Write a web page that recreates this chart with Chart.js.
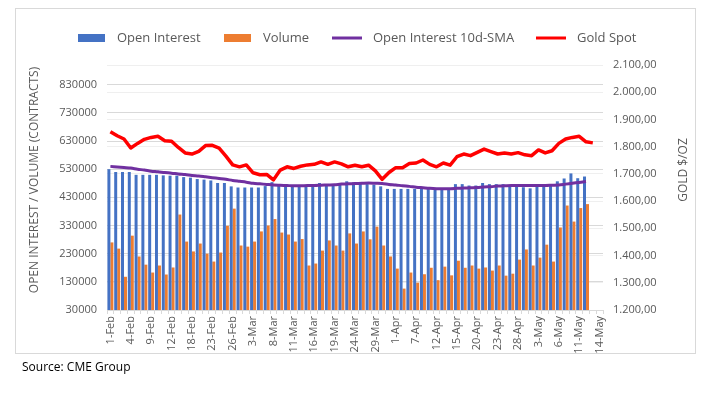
<!DOCTYPE html>
<html>
<head>
<meta charset="utf-8">
<title>Gold futures: open interest and volume</title>
<script src="https://cdn.jsdelivr.net/npm/chart.js@4.4.0/dist/chart.umd.min.js"></script>
<style>
  html, body { margin: 0; padding: 0; background: #ffffff; }
  #wrap { width: 716px; height: 397px; }
</style>
</head>
<body>
<div id="wrap"><canvas id="chart" width="716" height="397"></canvas></div>
<script>
// Trading days, 1-Feb to 14-May (only every third one is labelled on the axis)
const categories = [
  '1-Feb', '2-Feb', '3-Feb', '4-Feb', '5-Feb', '8-Feb', '9-Feb', '10-Feb', '11-Feb', '12-Feb',
  '16-Feb', '17-Feb', '18-Feb', '19-Feb', '22-Feb', '23-Feb', '24-Feb', '25-Feb', '26-Feb',
  '1-Mar', '2-Mar', '3-Mar', '4-Mar', '5-Mar', '8-Mar', '9-Mar', '10-Mar', '11-Mar', '12-Mar',
  '15-Mar', '16-Mar', '17-Mar', '18-Mar', '19-Mar', '22-Mar', '23-Mar', '24-Mar', '25-Mar', '26-Mar',
  '29-Mar', '30-Mar', '31-Mar',
  '1-Apr', '5-Apr', '6-Apr', '7-Apr', '8-Apr', '9-Apr', '12-Apr', '13-Apr', '14-Apr', '15-Apr',
  '16-Apr', '19-Apr', '20-Apr', '21-Apr', '22-Apr', '23-Apr', '26-Apr', '27-Apr', '28-Apr', '29-Apr',
  '30-Apr',
  '3-May', '4-May', '5-May', '6-May', '7-May', '10-May', '11-May', '12-May', '13-May', '14-May'
];

// Contracts
const openInterest = [
  530000, 520000, 520000, 520000, 510000, 510000, 510000, 510000, 508000, 507000,
  507000, 502000, 500000, 495000, 493000, 490000, 481000, 481000, 469000, 465000,
  465000, 465000, 465000, 470000, 484000, 474000, 474000, 471000, 470000, 469000,
  476000, 481000, 475000, 474000, 477000, 487000, 483000, 481000, 477000, 475000,
  469000, 460000, 460000, 460000, 460000, 460000, 464000, 461000, 460000, 460000,
  460000, 477000, 477000, 472000, 472000, 481000, 477000, 477000, 477000, 474000,
  468000, 466000, 462000, 470000, 471000, 471000, 487000, 497000, 515000, 498000,
  504000
];

const volume = [
  270000, 248000, 148000, 294000, 220000, 191000, 163000, 188000, 156000, 181000,
  369000, 273000, 238000, 266000, 230000, 202000, 234000, 329000, 390000, 259000,
  255000, 273000, 309000, 330000, 353000, 305000, 298000, 273000, 282000, 188000,
  195000, 241000, 277000, 259000, 241000, 302000, 266000, 309000, 281000, 326000,
  259000, 220000, 177000, 106000, 163000, 127000, 157000, 180000, 136000, 184000,
  153000, 205000, 180000, 188000, 177000, 181000, 170000, 188000, 152000, 159000,
  209000, 245000, 188000, 216000, 262000, 202000, 323000, 401000, 344000, 392000,
  406000
];

const openInterestSma = [
  540000, 538000, 536000, 534000, 530000, 527000, 523000, 521000, 518000, 516000,
  513000, 511000, 508000, 506000, 503000, 500000, 497000, 494000, 490000, 487000,
  484000, 480000, 478000, 476000, 474000, 473000, 472000, 471000, 471000, 472000,
  472000, 473000, 474000, 475000, 477000, 478000, 479000, 480000, 481000, 480000,
  479000, 476000, 474000, 471000, 469000, 466000, 464000, 462000, 461000, 461000,
  461000, 462000, 463000, 464000, 465000, 467000, 468000, 470000, 471000, 472000,
  472000, 472000, 472000, 472000, 472000, 473000, 474000, 477000, 480000, 483000,
  486000
];

// $/oz
const goldSpot = [
  1855, 1840, 1828, 1795, 1812, 1827, 1834, 1838, 1822, 1820,
  1797, 1777, 1773, 1783, 1804, 1805, 1795, 1765, 1733, 1726,
  1733, 1704, 1697, 1698, 1678, 1714, 1726, 1720, 1728, 1733,
  1735, 1744, 1735, 1744, 1737, 1726, 1732, 1726, 1732, 1711,
  1680, 1705, 1723, 1723, 1738, 1740, 1751, 1735, 1726, 1740,
  1732, 1763, 1773, 1767, 1779, 1791, 1782, 1773, 1777, 1773,
  1778, 1770, 1767, 1788, 1777, 1785, 1812, 1828, 1834, 1838,
  1818, 1814
];

const leftTicks = [30000, 130000, 230000, 330000, 430000, 530000, 630000, 730000, 830000];
const rightTicks = [1200, 1300, 1400, 1500, 1600, 1700, 1800, 1900, 2000, 2100];

const FONT = "'Open Sans', 'Liberation Sans', sans-serif";
const TEXT = '#595959';

// 1.200,00 style numbers
function formatEuro(v) {
  const whole = Math.round(v).toString().replace(/\B(?=(\d{3})+(?!\d))/g, '.');
  return whole + ',00';
}

// Frame, legend, axis titles and source line
const decorations = {
  id: 'decorations',
  beforeDraw(chart) {
    const c = chart.ctx;
    c.save();
    c.fillStyle = '#ffffff';
    c.fillRect(0, 0, chart.width, chart.height);
    c.restore();
  },
  afterDraw(chart) {
    const c = chart.ctx;
    const ds = chart.data.datasets;
    c.save();

    // chart frame
    c.strokeStyle = '#d9d9d9';
    c.lineWidth = 1;
    c.strokeRect(15.5, 8.5, 680, 345);

    // legend
    c.font = '13px ' + FONT;
    c.fillStyle = TEXT;
    c.textBaseline = 'middle';
    const ly = 38;
    const items = [
      { x: 78, text: 117, kind: 'box' },
      { x: 224, text: 263, kind: 'box' },
      { x: 332, text: 373, kind: 'line' },
      { x: 536, text: 577, kind: 'line' }
    ];
    items.forEach((it, i) => {
      const d = ds[i];
      if (it.kind === 'box') {
        c.fillStyle = d.backgroundColor;
        c.fillRect(it.x, ly - 4, 27, 8);
      } else {
        c.strokeStyle = d.borderColor;
        c.lineWidth = 3;
        c.beginPath();
        c.moveTo(it.x, ly);
        c.lineTo(it.x + 30, ly);
        c.stroke();
      }
      c.fillStyle = TEXT;
      c.textAlign = 'left';
      c.fillText(d.label, it.text, ly);
    });

    // axis titles
    c.font = '12px ' + FONT;
    c.fillStyle = TEXT;
    c.textAlign = 'center';
    c.save();
    c.translate(35, 180);
    c.rotate(-Math.PI / 2);
    c.fillText('OPEN INTEREST / VOLUME (CONTRACTS)', 0, 0);
    c.restore();
    c.save();
    c.translate(684, 170);
    c.rotate(-Math.PI / 2);
    c.fillText('GOLD $/OZ', 0, 0);
    c.restore();

    // source
    c.font = '12px ' + FONT;
    c.fillStyle = '#000000';
    c.textAlign = 'left';
    c.fillText('Source: CME Group', 22, 368);
    c.restore();
  }
};

const ctx = document.getElementById('chart').getContext('2d');

new Chart(ctx, {
  type: 'bar',
  data: {
    labels: categories,
    datasets: [
      {
        type: 'bar',
        label: 'Open Interest',
        data: openInterest,
        backgroundColor: '#4472C4',
        yAxisID: 'y',
        order: 2,
        categoryPercentage: 0.88,
        barPercentage: 1.0
      },
      {
        type: 'bar',
        label: 'Volume',
        data: volume,
        backgroundColor: '#ED7D31',
        yAxisID: 'y',
        order: 2,
        categoryPercentage: 0.88,
        barPercentage: 1.0
      },
      {
        type: 'line',
        label: 'Open Interest 10d-SMA',
        data: openInterestSma,
        borderColor: '#7030A0',
        backgroundColor: '#7030A0',
        borderWidth: 3,
        pointRadius: 0,
        tension: 0.3,
        yAxisID: 'y',
        order: 1
      },
      {
        type: 'line',
        label: 'Gold Spot',
        data: goldSpot,
        borderColor: '#FF0000',
        backgroundColor: '#FF0000',
        borderWidth: 3.5,
        pointRadius: 0,
        tension: 0,
        borderJoinStyle: 'round',
        yAxisID: 'y2',
        order: 0
      }
    ]
  },
  options: {
    responsive: false,
    animation: false,
    devicePixelRatio: 1,
    layout: { padding: { top: 65, left: 0, right: 0, bottom: 0 } },
    plugins: {
      legend: { display: false },
      tooltip: { enabled: false }
    },
    scales: {
      x: {
        grid: {
          display: true,
          drawOnChartArea: false,
          drawTicks: true,
          tickLength: 4,
          color: '#d9d9d9'
        },
        border: { color: '#d9d9d9' },
        ticks: {
          autoSkip: false,
          maxRotation: 90,
          minRotation: 90,
          padding: 2,
          color: TEXT,
          font: { family: FONT, size: 11 },
          callback: (value, index) => (index % 3 === 0 ? categories[index] : '')
        },
        afterFit: (scale) => { scale.height = 87; }
      },
      y: {
        position: 'left',
        min: 30000,
        max: 900000,
        afterBuildTicks: (scale) => { scale.ticks = leftTicks.map(v => ({ value: v })); },
        grid: { color: '#d9d9d9', drawTicks: false },
        border: { display: false },
        ticks: {
          padding: 10,
          color: TEXT,
          font: { family: FONT, size: 11 },
          callback: (v) => String(v)
        },
        afterFit: (scale) => { scale.width = 107; }
      },
      y2: {
        position: 'right',
        min: 1200,
        max: 2100,
        afterBuildTicks: (scale) => { scale.ticks = rightTicks.map(v => ({ value: v })); },
        grid: { color: '#efefef', drawTicks: false, drawOnChartArea: true },
        border: { display: false },
        ticks: {
          padding: 10,
          color: TEXT,
          font: { family: FONT, size: 11 },
          callback: (v) => formatEuro(v)
        },
        afterFit: (scale) => { scale.width = 113; }
      }
    }
  },
  plugins: [decorations]
});
</script>
</body>
</html>
